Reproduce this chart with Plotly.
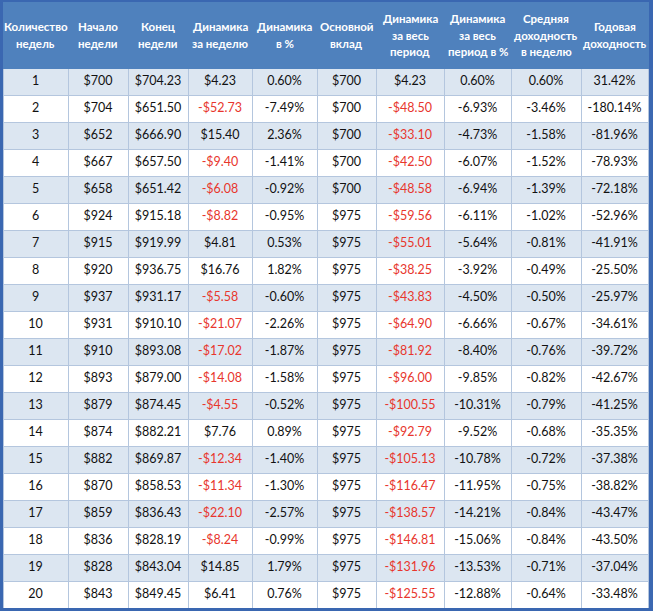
import plotly.graph_objects as go

# column headers, one list entry per text line
headers = [
    ["Количество", "недель"], ["Начало", "недели"], ["Конец", "недели"],
    ["Динамика", "за неделю"], ["Динамика", "в %"], ["Основной", "вклад"],
    ["Динамика", "за весь", "период"], ["Динамика", "за весь", "период в %"],
    ["Средняя", "доходность", "в неделю"], ["Годовая", "доходность"],
]

weeks = list(range(1, 21))
start_week = [700, 704, 652, 667, 658, 924, 915, 920, 937, 931,
              910, 893, 879, 874, 882, 870, 859, 836, 828, 843]
end_week = [704.23, 651.50, 666.90, 657.50, 651.42, 915.18, 919.99, 936.75, 931.17, 910.10,
            893.08, 879.00, 874.45, 882.21, 869.87, 858.53, 836.43, 828.19, 843.04, 849.45]
week_change = [4.23, -52.73, 15.40, -9.40, -6.08, -8.82, 4.81, 16.76, -5.58, -21.07,
               -17.02, -14.08, -4.55, 7.76, -12.34, -11.34, -22.10, -8.24, 14.85, 6.41]
week_pct = [0.60, -7.49, 2.36, -1.41, -0.92, -0.95, 0.53, 1.82, -0.60, -2.26,
            -1.87, -1.58, -0.52, 0.89, -1.40, -1.30, -2.57, -0.99, 1.79, 0.76]
deposit = [700] * 5 + [975] * 15
total_change = [4.23, -48.50, -33.10, -42.50, -48.58, -59.56, -55.01, -38.25, -43.83, -64.90,
                -81.92, -96.00, -100.55, -92.79, -105.13, -116.47, -138.57, -146.81, -131.96, -125.55]
total_pct = [0.60, -6.93, -4.73, -6.07, -6.94, -6.11, -5.64, -3.92, -4.50, -6.66,
             -8.40, -9.85, -10.31, -9.52, -10.78, -11.95, -14.21, -15.06, -13.53, -12.88]
avg_week = [0.60, -3.46, -1.58, -1.52, -1.39, -1.02, -0.81, -0.49, -0.50, -0.67,
            -0.76, -0.82, -0.79, -0.68, -0.72, -0.75, -0.84, -0.84, -0.71, -0.64]
annual = [31.42, -180.14, -81.96, -78.93, -72.18, -52.96, -41.91, -25.50, -25.97, -34.61,
          -39.72, -42.67, -41.25, -35.35, -37.38, -38.82, -43.47, -43.50, -37.04, -33.48]

col_widths = [65, 60, 60, 64, 65, 59, 68, 67, 70, 67]

W, H = 653, 611
M = dict(l=3, r=5, t=2, b=3)
header_h = 66
row_h = 27
line_gap = 16.7  # px between header text lines


def money(v, dec=2):
    s = f"${abs(v):.{dec}f}"
    return "-" + s if v < 0 else s


def pct(v):
    return f"{v:.2f}%"


columns = [
    [str(w) for w in weeks],
    [money(v, 0) for v in start_week],
    [money(v) for v in end_week],
    [money(v) for v in week_change],
    [pct(v) for v in week_pct],
    [money(v, 0) for v in deposit],
    [money(v) for v in total_change],
    [pct(v) for v in total_pct],
    [pct(v) for v in avg_week],
    [pct(v) for v in annual],
]

# stripes and red negatives in money columns
row_fill = ["#dce6f1" if i % 2 == 0 else "white" for i in range(len(weeks))]
fills = [row_fill] * len(columns)
black = "#111111"
red = "#e8362d"
font_colors = [[black] * len(weeks) for _ in columns]
for j, vals in ((3, week_change), (6, total_change)):
    font_colors[j] = [red if v < 0 else black for v in vals]

fig = go.Figure(go.Table(
    columnwidth=col_widths,
    header=dict(
        values=[""] * len(columns),
        fill_color="#4f81bd",
        line=dict(color="#4f81bd", width=1),
        height=header_h,
    ),
    cells=dict(
        values=columns,
        fill_color=fills,
        line=dict(color="#b4c6de", width=1),
        font=dict(family="Lato", size=12.5, color=font_colors),
        align="center",
        height=row_h,
    ),
))

# header labels: plotly centres a multi-line cell as a block (lines stay
# left aligned), so each line goes on as its own annotation
plot_h = H - M["t"] - M["b"]
total_w = sum(col_widths)
left = 0
for lines, w in zip(headers, col_widths):
    n = len(lines)
    for k, s in enumerate(lines):
        y_px = header_h / 2 + (k - (n - 1) / 2) * line_gap
        fig.add_annotation(
            x=(left + w / 2) / total_w, y=1 - y_px / plot_h,
            xref="paper", yref="paper", xanchor="center", yanchor="middle",
            text="<b>" + s + "</b>",
            showarrow=False,
            font=dict(family="Lato", size=11.5, color="white"),
        )
    left += w

fig.update_layout(
    width=W, height=H,
    margin=M,
    paper_bgcolor="#3a67b1",
)

fig.write_html("out.html", config={"displayModeBar": False},
               post_script="document.body.style.margin='0';")
